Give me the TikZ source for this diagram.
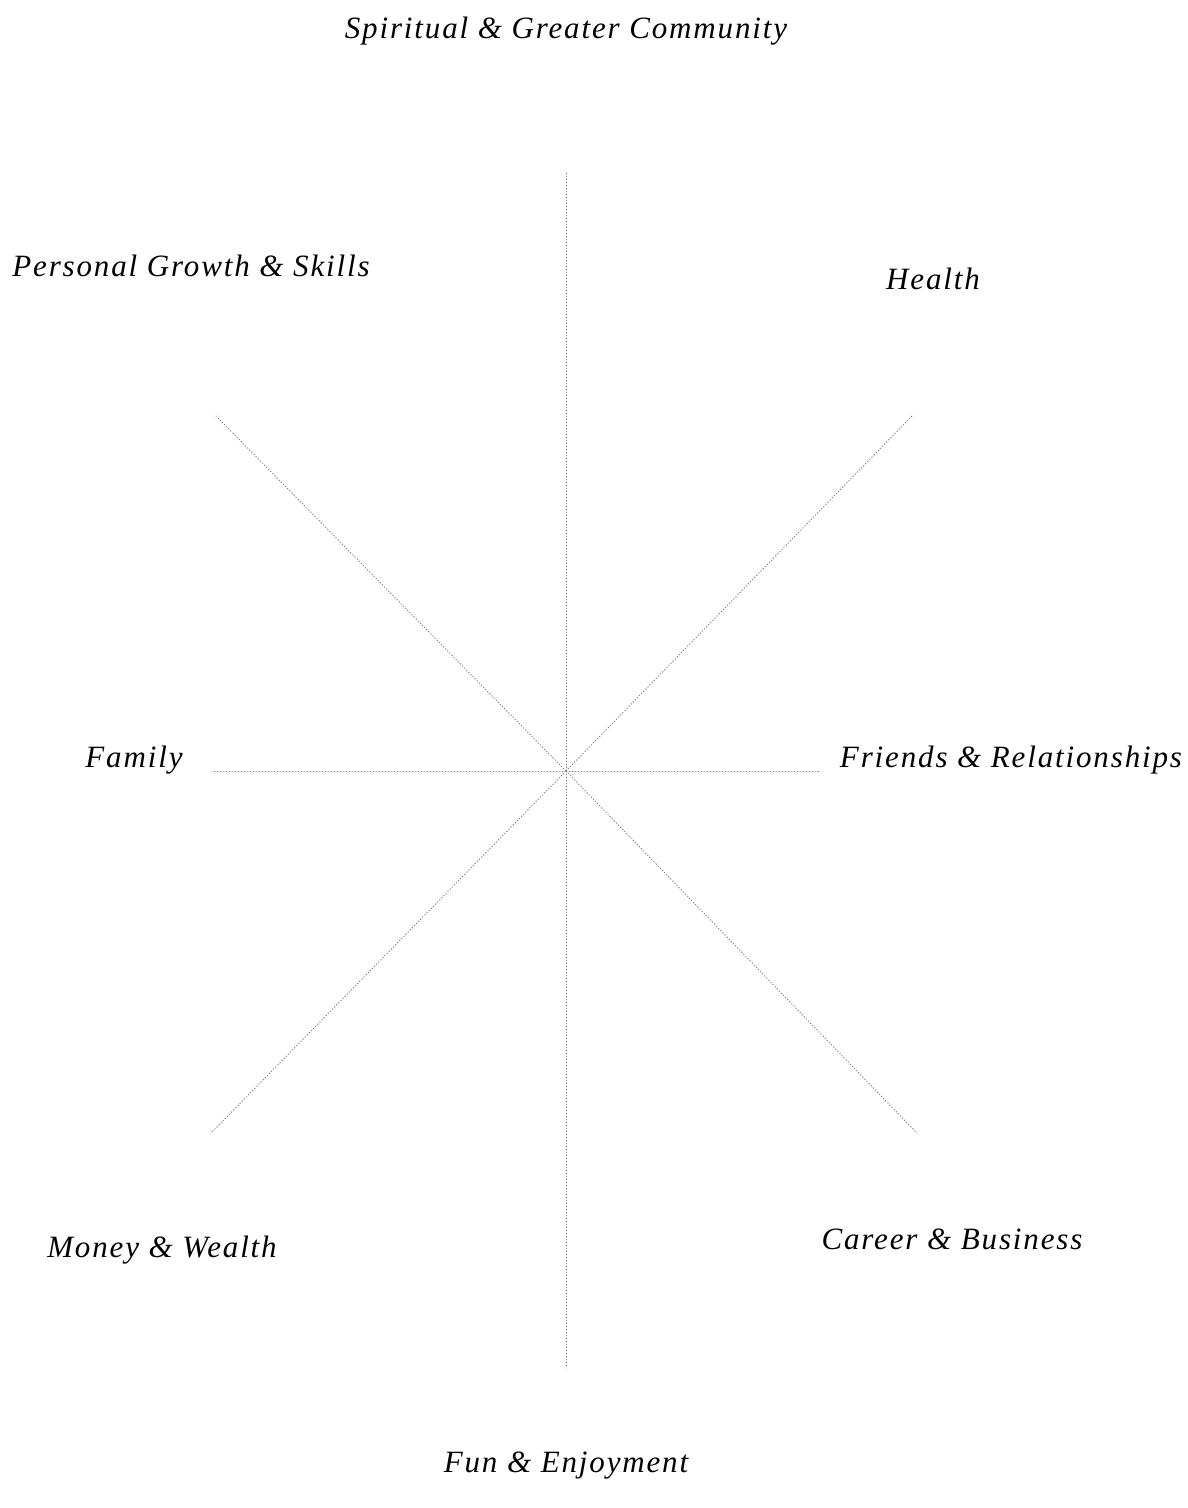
\documentclass[tikz,border=0pt]{standalone}
\usepackage{fontspec}
\setmainfont{Liberation Serif}[LetterSpace=6]
\begin{document}
\begin{tikzpicture}[x=1pt,y=-1pt, line join=round, line cap=round]
	\tikzset{spoke/.style={gray,line width=0.9pt,dash pattern=on 0.9pt off 2.1pt},
		area/.style={font=\fontsize{31}{36}\selectfont\itshape,anchor=base,inner sep=0pt}}
	\useasboundingbox (0,0) rectangle (1187,1508);
	% hub and spoke ends
	\coordinate (hub) at (566,771);
	\coordinate (top) at (566,172);
	\coordinate (bot) at (566,1368);
	\coordinate (lft) at (212,771);
	\coordinate (rgt) at (820,771);
	\coordinate (ul) at (216,416);
	\coordinate (ur) at (912,416);
	\coordinate (ll) at (211,1133);
	\coordinate (lr) at (917,1133);
	\foreach \e in {top,bot,lft,rgt,ul,ur,ll,lr}
		\draw[spoke] (hub)--(\e);
	% labels
	\node[area] (spirit) at (566,38) {Spiritual \& Greater Community};
	\node[area] (growth) at (191,276) {Personal Growth \& Skills};
	\node[area] (health) at (933,289) {Health};
	\node[area] (family) at (134,767) {Family};
	\node[area] (friends) at (1011,767) {Friends \& Relationships};
	\node[area] (money) at (162,1257) {Money \& Wealth};
	\node[area] (career) at (952,1249) {Career \& Business};
	\node[area] (fun) at (566,1472) {Fun \& Enjoyment};
\end{tikzpicture}
\end{document}
